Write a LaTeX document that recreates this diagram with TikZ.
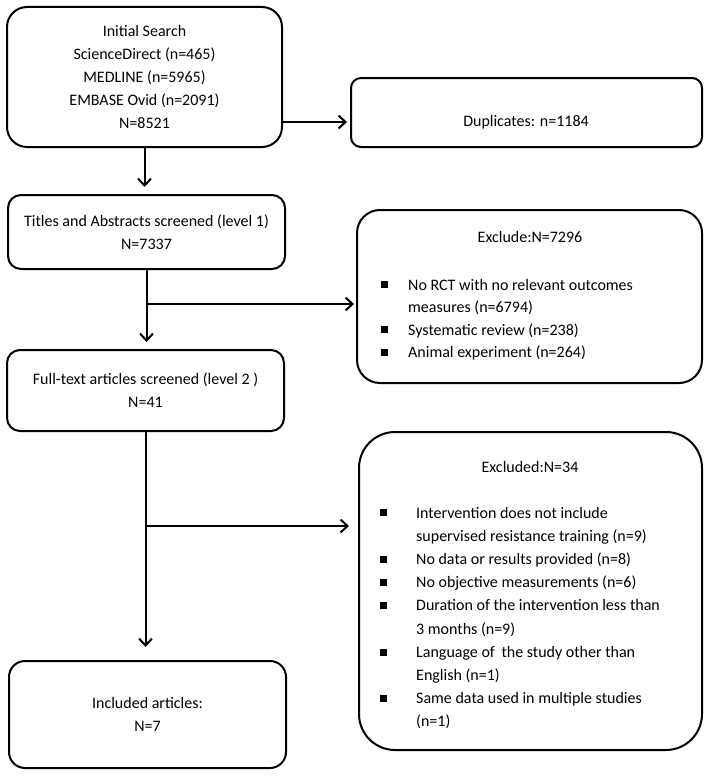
\documentclass[tikz,border=0pt]{standalone}
\usepackage{fontspec}
\setmainfont{Carlito}
\usetikzlibrary{arrows.meta,calc}
\newcommand{\sqbullet}{\rule[1.7pt]{7pt}{7pt}}
\begin{document}
\begin{tikzpicture}[x=1pt,y=-1pt,
  box/.style={draw=black, line width=2pt, inner sep=0pt, align=center,
    font=\fontsize{16}{23}\selectfont},
  arr/.style={line width=2pt, -{Straight Barb[length=7pt,width=13pt,line width=2pt]}},
  txt/.style={inner sep=0pt, align=center, font=\fontsize{16}{23}\selectfont},
  lst/.style={inner sep=0pt, align=left, anchor=base west}
]
\useasboundingbox (0,0) rectangle (708,776);
\fill[white] (0,0) rectangle (708,776);

% left column
\node[box, rounded corners=20pt, minimum width=275pt, minimum height=140pt] (search) at (144.5,77)
  {Initial Search\\ScienceDirect (n=465)\\MEDLINE (n=5965)\\EMBASE Ovid (n=2091)\\N=8521};
\node[box, rounded corners=13pt, minimum width=277pt, minimum height=74pt] (titles) at (146.5,232)
  {Titles and Abstracts screened (level 1)\\N=7337};
\node[box, rounded corners=13pt, minimum width=277pt, minimum height=81pt] (full) at (145.5,390.5)
  {Full-text articles screened (level 2 )\\N=41};
\node[box, rounded corners=16pt, minimum width=277pt, minimum height=107pt] (incl) at (147.5,714.5)
  {Included articles:\\N=7};

% right column
\node[box, rounded corners=10pt, minimum width=351pt, minimum height=69pt] (dup) at (526.5,112.5) {};
\node[txt] (duptext) at (526,122) {Duplicates: n=1184};

\node[box, rounded corners=23pt, minimum width=345pt, minimum height=173pt] (excl1) at (529.5,296.5) {};
\node[txt] (excl1head) at (530,237) {Exclude:N=7296};
\node[lst, font=\fontsize{16}{22.5}\selectfont] (excl1list) at (380.5,290)
  {\begin{tabular}[t]{@{}p{27.5pt}@{}l@{}}
   \sqbullet & No RCT with no relevant outcomes\\
             & measures (n=6794)\\
   \sqbullet & Systematic review (n=238)\\
   \sqbullet & Animal experiment (n=264)
   \end{tabular}};

\node[box, rounded corners=36pt, minimum width=343pt, minimum height=318pt] (excl2) at (530.5,591) {};
\node[txt] (excl2head) at (530,467) {Excluded:N=34};
\node[lst, font=\fontsize{16}{23.2}\selectfont] (excl2list) at (380,518)
  {\begin{tabular}[t]{@{}p{36pt}@{}l@{}}
   \sqbullet & Intervention does not include\\
             & supervised resistance training (n=9)\\
   \sqbullet & No data or results provided (n=8)\\
   \sqbullet & No objective measurements (n=6)\\
   \sqbullet & Duration of the intervention less than\\
             & 3 months (n=9)\\
   \sqbullet & Language of\hspace{3pt} the study other than\\
             & English (n=1)\\
   \sqbullet & Same data used in multiple studies\\
             & (n=1)
   \end{tabular}};

% connectors
\draw[arr, shorten >=3pt] (search.east |- duptext) -- (dup.west |- duptext);
\draw[arr, shorten >=7pt] (search.south) -- (search.south |- titles.north);
\draw[arr, shorten >=7pt] (titles.south) -- (titles.south |- full.north);
\coordinate (b1) at ($(titles.south)+(0,34)$);
\draw[arr, shorten >=2pt] (b1) -- (b1 -| excl1.west);
\draw[arr, shorten >=13pt] (full.south) -- (full.south |- incl.north);
\coordinate (b2) at ($(full.south)+(0,94)$);
\draw[arr, shorten >=9pt] (b2) -- (b2 -| excl2.west);
\end{tikzpicture}
\end{document}
